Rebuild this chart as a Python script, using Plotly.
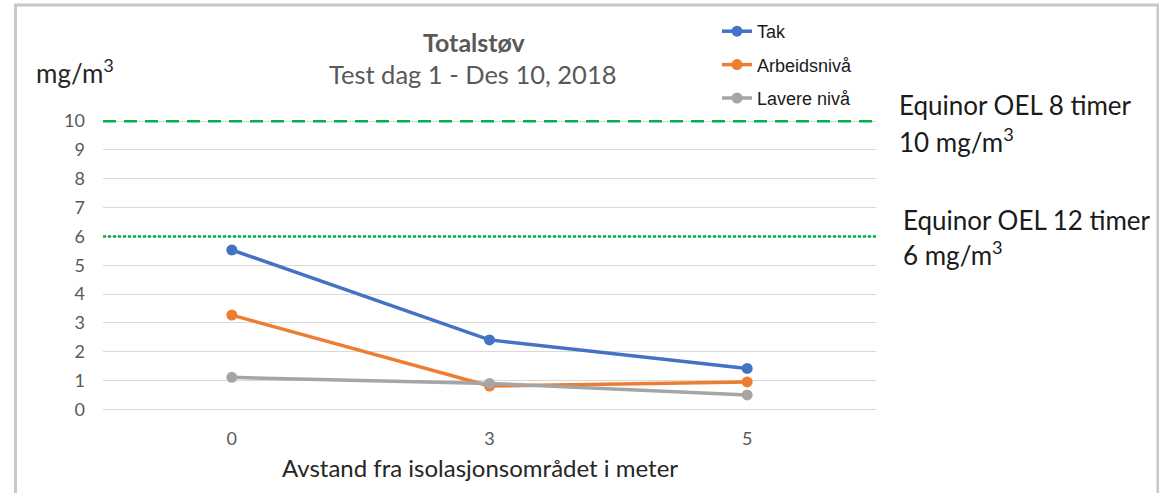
import plotly.graph_objects as go

categories = ["0", "3", "5"]
tak = [5.53, 2.41, 1.42]
arbeidsniva = [3.27, 0.81, 0.95]
lavere_niva = [1.11, 0.90, 0.50]
series_names = ["Tak", "Arbeidsnivå", "Lavere nivå"]
series_colors = ["#4472C4", "#ED7D31", "#A5A5A5"]
oel_values = [10, 6]
oel_labels = [("Equinor OEL 8 timer", "10 mg/m<sup>3</sup>"), ("Equinor OEL 12 timer", "6 mg/m<sup>3</sup>")]
y_ticks = list(range(0, 11))

W, H = 1159, 493
ML, MR, MT, MB = 103, 283, 101, 75
PW, PH = W - ML - MR, H - MT - MB


def px(x):
    return (x - ML) / PW


def py(y):
    return 1 - (y - MT) / PH


fig = go.Figure()
for i, (name, vals) in enumerate(zip(series_names, [tak, arbeidsniva, lavere_niva])):
    fig.add_trace(go.Scatter(
        x=categories, y=vals, name=name, mode="lines+markers",
        line=dict(color=series_colors[i], width=3.5),
        marker=dict(color=series_colors[i], size=11),
        legendgroup=name,
    ))

shapes = []
dashes = ["13px,8px", "3px,2px"]
for v, d in zip(oel_values, dashes):
    shapes.append(dict(type="line", xref="paper", yref="y", x0=0, x1=1, y0=v, y1=v,
                       line=dict(color="#00B050", width=2.5, dash=d), layer="above"))
# outer border
shapes.append(dict(type="rect", xref="paper", yref="paper",
                   x0=px(15.5), x1=px(1158), y0=py(5), y1=py(520),
                   line=dict(color="#C8C8C8", width=3), fillcolor="rgba(0,0,0,0)"))

TXT = dict(showarrow=False, xref="paper", yref="paper", yanchor="middle")
annotations = [
    dict(text="<b>Totalstøv</b>", x=px(474), y=py(42), xanchor="center",
         font=dict(family="Lato", size=25, color="#595959"), **TXT),
    dict(text="Test dag 1 - Des 10, 2018", x=px(473), y=py(74), xanchor="center",
         font=dict(family="Lato", size=25.5, color="#595959"), **TXT),
    dict(text="mg/m<sup>3</sup>", x=px(34), y=py(72), xanchor="left",
         font=dict(family="Lato", size=26, color="#262626"), **TXT),
    dict(text="Avstand fra isolasjonsområdet i meter", x=px(480), y=py(468), xanchor="center",
         font=dict(family="Lato", size=24, color="#262626"), **TXT),
]
label_pos = [(897, 105, 140), (901, 220, 253)]
for (l1, l2), (xp, y1p, y2p) in zip(oel_labels, label_pos):
    annotations.append(dict(text=l1, x=px(xp), y=py(y1p), xanchor="left",
                            font=dict(family="Lato", size=26, color="#1a1a1a"), **TXT))
    annotations.append(dict(text=l2, x=px(xp), y=py(y2p), xanchor="left",
                            font=dict(family="Lato", size=26, color="#1a1a1a"), **TXT))

fig.update_layout(
    width=W, height=H,
    margin=dict(l=ML, r=MR, t=MT, b=MB),
    paper_bgcolor="white", plot_bgcolor="white",
    showlegend=True,
    legend=dict(x=px(717), y=py(13), xanchor="left", yanchor="top",
                font=dict(family="Liberation Sans", size=18, color="#1a1a1a"),
                traceorder="grouped", tracegroupgap=7, bgcolor="rgba(0,0,0,0)"),
    xaxis=dict(type="category", range=[-0.5, 2.5], showgrid=False, showline=False, zeroline=False,
               ticks="", tickfont=dict(family="Lato", size=18, color="#595959"), ticklabelstandoff=8),
    yaxis=dict(range=[-0.3, 10.7], tickvals=y_ticks, showgrid=True, gridcolor="#D9D9D9", gridwidth=1,
               zeroline=False, showline=False, ticks="",
               tickfont=dict(family="Lato", size=18, color="#595959"), ticklabelstandoff=17),
    shapes=shapes, annotations=annotations,
)

fig.write_html("out.html", config={"displayModeBar": False},
               post_script="document.body.style.margin='0';document.body.style.overflow='hidden';")
